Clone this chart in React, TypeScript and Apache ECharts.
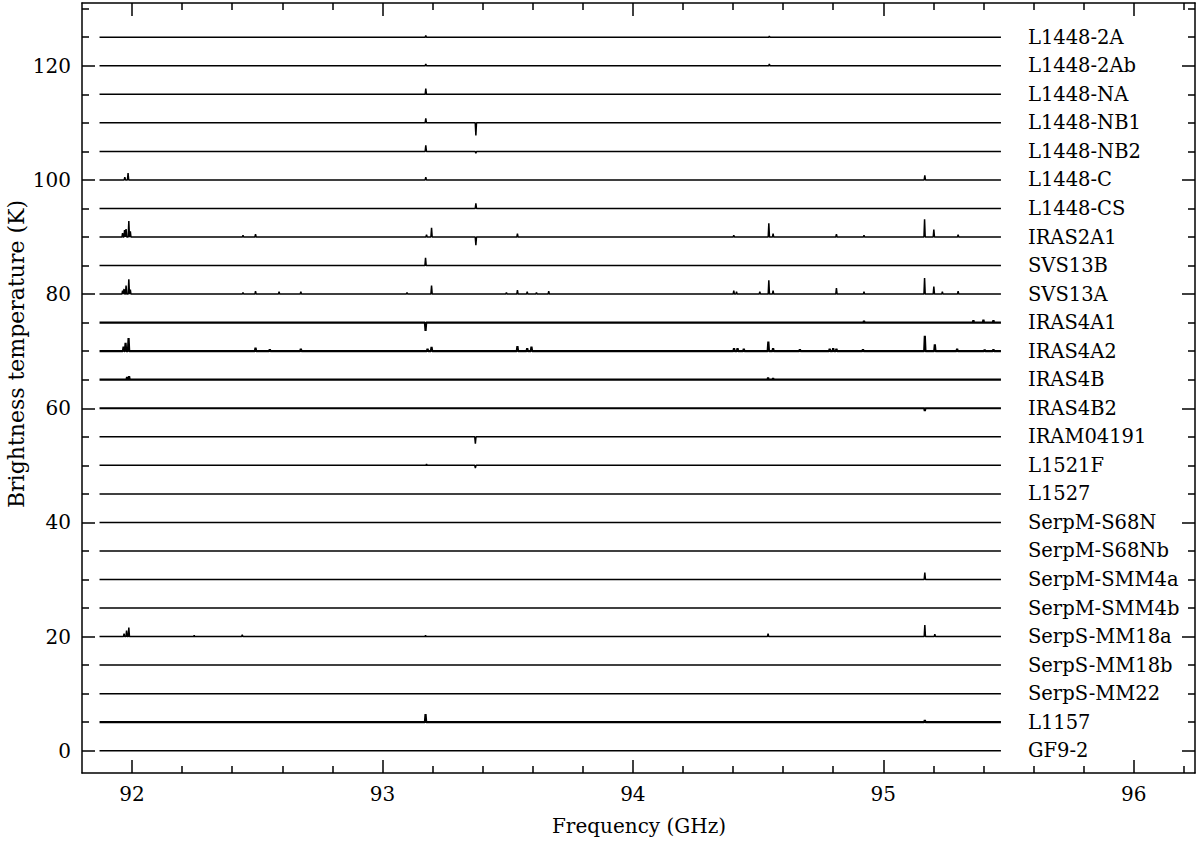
import React, { useEffect, useRef } from 'react';
import * as echarts from 'echarts';

// ---------------- data ----------------
const FREQ_START = 91.87;
const FREQ_END = 95.47;

const sourceNames = [
  'L1448-2A', 'L1448-2Ab', 'L1448-NA', 'L1448-NB1', 'L1448-NB2', 'L1448-C', 'L1448-CS',
  'IRAS2A1', 'SVS13B', 'SVS13A', 'IRAS4A1', 'IRAS4A2', 'IRAS4B', 'IRAS4B2', 'IRAM04191',
  'L1521F', 'L1527', 'SerpM-S68N', 'SerpM-S68Nb', 'SerpM-SMM4a', 'SerpM-SMM4b',
  'SerpS-MM18a', 'SerpS-MM18b', 'SerpS-MM22', 'L1157', 'GF9-2',
];
const baselines = [125, 120, 115, 110, 105, 100, 95, 90, 85, 80, 75, 70, 65, 60, 55, 50, 45, 40, 35, 30, 25, 20, 15, 10, 5, 0];

// spectral features: [frequency GHz, amplitude K above baseline]
const L1448_2A = [[93.173, 0.3], [94.545, 0.2]];
const L1448_2Ab = [[93.173, 0.3], [94.545, 0.3]];
const L1448_NA = [[93.173, 1.0]];
const L1448_NB1 = [[93.173, 0.8], [93.373, -2.2]];
const L1448_NB2 = [[93.173, 1.05], [93.373, -0.3]];
const L1448_C = [[91.971, 0.5], [91.984, 1.2], [93.173, 0.5], [95.166, 0.8]];
const L1448_CS = [[93.373, 0.9]];
const IRAS2A1 = [
  [91.962, 0.7], [91.970, 1.2], [91.976, 1.4], [91.987, 2.8], [91.993, 1.0], [92.443, 0.3],
  [92.493, 0.5], [93.176, 0.4], [93.196, 1.6], [93.373, -1.45], [93.539, 0.6], [94.403, 0.3],
  [94.543, 2.4], [94.560, 0.6], [94.813, 0.5], [94.923, 0.3], [95.165, 3.1], [95.202, 1.3],
  [95.299, 0.4],
];
const SVS13B = [[93.172, 1.35]];
const SVS13A = [
  [91.962, 0.6], [91.968, 0.9], [91.976, 1.5], [91.987, 2.6], [91.993, 0.8], [92.443, 0.3],
  [92.493, 0.5], [92.587, 0.4], [92.674, 0.4], [93.098, 0.3], [93.196, 1.5], [93.495, 0.3],
  [93.539, 0.7], [93.578, 0.4], [93.615, 0.3], [93.664, 0.5], [94.403, 0.6], [94.414, 0.4],
  [94.507, 0.4], [94.543, 2.4], [94.560, 0.6], [94.813, 1.05], [94.923, 0.4], [95.165, 2.8],
  [95.202, 1.3], [95.236, 0.4], [95.299, 0.5],
];
const IRAS4A1 = [[93.172, -1.45], [94.923, 0.3], [95.36, 0.4], [95.40, 0.5], [95.44, 0.4]];
const IRAS4A2 = [
  [91.966, 0.8], [91.974, 1.45], [91.986, 2.3], [92.493, 0.6], [92.55, 0.3], [92.674, 0.4],
  [93.180, 0.4], [93.196, 0.75], [93.539, 0.9], [93.578, 0.5], [93.595, 0.8], [94.404, 0.5],
  [94.418, 0.5], [94.443, 0.4], [94.541, 1.7], [94.560, 0.5], [94.667, 0.3], [94.786, 0.4],
  [94.800, 0.5], [94.813, 0.4], [94.919, 0.3], [95.166, 2.7], [95.206, 1.2], [95.295, 0.4],
  [95.405, 0.25], [95.44, 0.3],
];
const IRAS4B = [[91.980, 0.5], [91.988, 0.6], [94.54, 0.4], [94.56, 0.3]];
const IRAS4B2 = [[95.166, -0.5]];
const IRAM04191 = [[93.371, -1.2]];
const L1521F = [[93.176, 0.2], [93.371, -0.5]];
const L1527 = [];
const SerpM_S68N = [];
const SerpM_S68Nb = [];
const SerpM_SMM4a = [[95.166, 1.2]];
const SerpM_SMM4b = [];
const SerpS_MM18a = [
  [91.968, 0.5], [91.978, 1.05], [91.987, 1.6], [92.248, 0.2], [92.44, 0.3], [93.172, 0.2],
  [94.54, 0.5], [95.166, 2.0], [95.206, 0.4],
];
const SerpS_MM18b = [];
const SerpS_MM22 = [];
const L1157 = [[93.172, 1.4], [95.166, 0.4]];
const GF9_2 = [];

const featuresBySource = [
  L1448_2A, L1448_2Ab, L1448_NA, L1448_NB1, L1448_NB2, L1448_C, L1448_CS, IRAS2A1, SVS13B,
  SVS13A, IRAS4A1, IRAS4A2, IRAS4B, IRAS4B2, IRAM04191, L1521F, L1527, SerpM_S68N,
  SerpM_S68Nb, SerpM_SMM4a, SerpM_SMM4b, SerpS_MM18a, SerpS_MM18b, SerpS_MM22, L1157, GF9_2,
];

const noisySources = ['IRAS4A1', 'IRAS4A2', 'IRAS4B', 'IRAS4B2', 'L1157'];

const xMajorTicks = [92, 93, 94, 95, 96];
const xMinorTicks = [
  92.2, 92.4, 92.6, 92.8, 93.2, 93.4, 93.6, 93.8, 94.2, 94.4, 94.6, 94.8, 95.2, 95.4, 95.6, 95.8, 96.2,
];
const yMajorTicks = [0, 20, 40, 60, 80, 100, 120];
const yMinorTicks = [5, 10, 15, 25, 30, 35, 45, 50, 55, 65, 70, 75, 85, 90, 95, 105, 110, 115, 125, 130];

// ---------------- chart ----------------
const FONT = 'DejaVu Serif';
const HALF = 0.0025;

function buildTrace(features: number[][], base: number) {
  const pts: number[][] = [[FREQ_START, base]];
  const sorted = [...features].sort((a, b) => a[0] - b[0]);
  for (const [f, a] of sorted) {
    pts.push([f - HALF, base], [f, base + a], [f + HALF, base]);
  }
  pts.push([FREQ_END, base]);
  return pts;
}

function makeXAxis(position: string, ticks: number[], len: number, showLine: boolean, labels: boolean) {
  return {
    type: 'value',
    min: 91.8,
    max: 96.245,
    position,
    axisLine: { show: showLine, onZero: false, lineStyle: { color: '#000', width: 1.5 } },
    axisTick: { show: true, inside: true, length: len, customValues: ticks, lineStyle: { color: '#000', width: 1.5 } },
    axisLabel: labels
      ? { show: true, customValues: ticks, margin: 11, color: '#000', fontFamily: FONT, fontSize: 20, formatter: (v: number) => String(v) }
      : { show: false },
    splitLine: { show: false },
  };
}

function makeYAxis(position: string, ticks: number[], len: number, showLine: boolean, labels: boolean) {
  return {
    type: 'value',
    min: -3.9,
    max: 131,
    position,
    axisLine: { show: showLine, onZero: false, lineStyle: { color: '#000', width: 1.5 } },
    axisTick: { show: true, inside: true, length: len, customValues: ticks, lineStyle: { color: '#000', width: 1.5 } },
    axisLabel: labels
      ? { show: true, customValues: ticks, margin: 11, color: '#000', fontFamily: FONT, fontSize: 20, formatter: (v: number) => String(v) }
      : { show: false },
    splitLine: { show: false },
  };
}

export default function App() {
  const ref = useRef<HTMLDivElement>(null);

  useEffect(() => {
    if (!ref.current) return;
    const chart = echarts.init(ref.current, undefined, { renderer: 'svg' });

    const series = sourceNames.map((name, i) => ({
      name,
      type: 'line',
      xAxisIndex: 0,
      yAxisIndex: 0,
      data: buildTrace(featuresBySource[i], baselines[i]),
      showSymbol: false,
      symbol: 'none',
      silent: true,
      lineStyle: { color: '#000', width: noisySources.includes(name) ? 2.2 : 1.5 },
      endLabel: {
        show: true,
        formatter: '{a}',
        distance: 27,
        color: '#000',
        fontFamily: FONT,
        fontSize: 19.5,
      },
      emphasis: { disabled: true },
    }));

    chart.setOption({
      animation: false,
      backgroundColor: '#fff',
      grid: { left: 82, right: 5, top: 3, bottom: 68, containLabel: false },
      xAxis: [
        makeXAxis('bottom', xMajorTicks, 13, true, true),
        makeXAxis('bottom', xMinorTicks, 7, false, false),
        makeXAxis('top', xMajorTicks, 13, true, false),
        makeXAxis('top', xMinorTicks, 7, false, false),
      ],
      yAxis: [
        makeYAxis('left', yMajorTicks, 13, true, true),
        makeYAxis('left', yMinorTicks, 7, false, false),
        makeYAxis('right', yMajorTicks, 13, true, false),
        makeYAxis('right', yMinorTicks, 7, false, false),
      ],
      series,
      graphic: [
        {
          type: 'text',
          x: 639,
          y: 826,
          style: { text: 'Frequency (GHz)', fill: '#000', fontFamily: FONT, fontSize: 20, align: 'center', verticalAlign: 'middle' },
        },
        {
          type: 'text',
          x: 16,
          y: 354,
          rotation: Math.PI / 2,
          style: { text: 'Brightness temperature (K)', fill: '#000', fontFamily: FONT, fontSize: 22, align: 'center', verticalAlign: 'middle' },
        },
      ],
    });

    return () => chart.dispose();
  }, []);

  return (
    <div
      ref={ref}
      style={{ position: 'absolute', left: 0, top: 0, width: 1200, height: 841, background: '#fff' }}
    />
  );
}
